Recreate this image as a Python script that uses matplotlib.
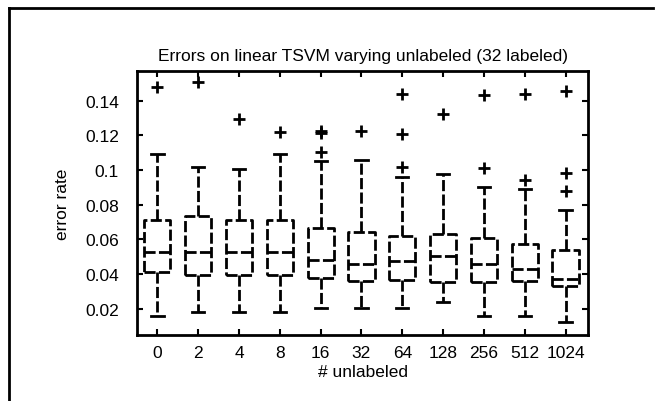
import matplotlib
matplotlib.use("Agg")
import matplotlib.pyplot as plt
from matplotlib.lines import Line2D

plt.rcParams['font.family'] = ['Liberation Sans', 'DejaVu Sans']

categories = ["0", "2", "4", "8", "16", "32", "64", "128", "256", "512", "1024"]
q1 = [0.0413, 0.0397, 0.0397, 0.0397, 0.0378, 0.0359, 0.0365, 0.0355, 0.0355, 0.0359, 0.0332]
med = [0.0528, 0.0528, 0.0528, 0.0528, 0.0484, 0.0460, 0.0476, 0.0503, 0.0460, 0.0432, 0.0374]
q3 = [0.0710, 0.0735, 0.0710, 0.0710, 0.0666, 0.0643, 0.0620, 0.0633, 0.0609, 0.0573, 0.0537]
whislo = [0.0159, 0.0182, 0.0182, 0.0182, 0.0207, 0.0207, 0.0207, 0.0240, 0.0159, 0.0159, 0.0125]
whishi = [0.1095, 0.1020, 0.1004, 0.1095, 0.1050, 0.1056, 0.0960, 0.0979, 0.0903, 0.0889, 0.0768]
fliers = [
    [0.148],
    [0.1504],
    [0.1296],
    [0.1220],
    [0.1225, 0.1215, 0.1106],
    [0.1225],
    [0.1435, 0.1210, 0.1020],
    [0.1325],
    [0.1432, 0.1012],
    [0.1435, 0.0945],
    [0.1454, 0.0983, 0.0878],
]

stats = []
for i, c in enumerate(categories):
    stats.append(dict(label=c, q1=q1[i], med=med[i], q3=q3[i],
                      whislo=whislo[i], whishi=whishi[i], fliers=fliers[i]))

fig = plt.figure(figsize=(6.61, 4.02), dpi=100)
ax = fig.add_axes([137/661, 1-336/402, (588-137)/661, (336-72)/402])

dash = (0, (4, 1.2))
ax.bxp(stats, widths=0.64, capwidths=0.3,
       boxprops=dict(color='black', linewidth=2, linestyle=dash),
       medianprops=dict(color='black', linewidth=2, linestyle=dash),
       whiskerprops=dict(color='black', linewidth=2, linestyle=dash),
       capprops=dict(color='black', linewidth=2),
       flierprops=dict(marker='+', markersize=9, markeredgewidth=2,
                       markeredgecolor='black', linestyle='none'))

ax.set_xlim(0.5, 11.55)
ax.set_ylim(0.005, 0.157)
ax.set_yticks([0.02, 0.04, 0.06, 0.08, 0.1, 0.12, 0.14])
ax.set_yticklabels(["0.02", "0.04", "0.06", "0.08", "0.1", "0.12", "0.14"])
ax.tick_params(direction='in', top=True, right=True, length=4, width=1.5,
               labelsize=12.5)
ax.tick_params(axis='y', pad=13)
ax.tick_params(axis='x', pad=7)
for s in ax.spines.values():
    s.set_linewidth(2)

ax.set_title("Errors on linear TSVM varying unlabeled (32 labeled)", fontsize=12.5, pad=8)
ax.set_xlabel("# unlabeled", fontsize=12.5, labelpad=3)
ax.set_ylabel("error rate", fontsize=12.5, labelpad=11)

fig.add_artist(Line2D([9/661, 9/661], [0, 1-9/402], transform=fig.transFigure,
                      color='black', linewidth=2))
fig.add_artist(Line2D([9/661, 653/661], [1-9/402, 1-9/402], transform=fig.transFigure,
                      color='black', linewidth=2))

fig.savefig("out.png", dpi=100)
